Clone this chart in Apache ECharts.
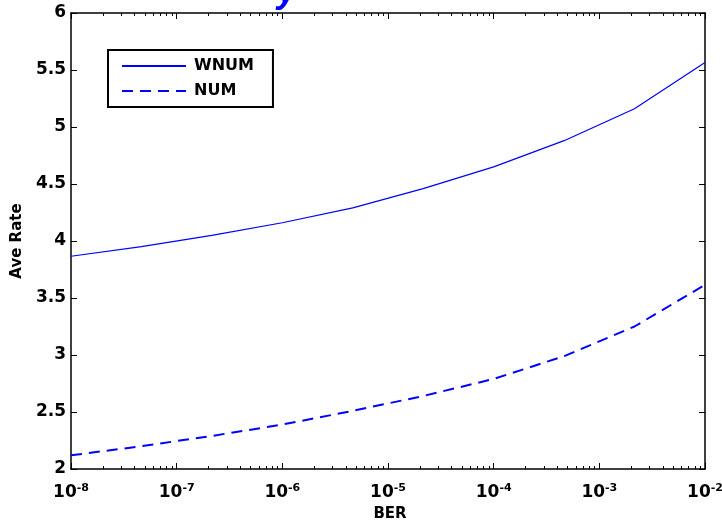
<!DOCTYPE html>
<html>
<head>
<meta charset="utf-8">
<script src="https://cdn.jsdelivr.net/npm/echarts@6/dist/echarts.min.js"></script>
<style>
  html, body { margin: 0; padding: 0; background: #fff; }
  #main { width: 722px; height: 522px; }
</style>
</head>
<body>
<div id="main"></div>
<script>
var myChart = echarts.init(document.getElementById('main'));

// BER sample points (log spaced)
var ber = [1e-8, 4.64e-8, 2.15e-7, 1e-6, 4.64e-6, 2.15e-5, 1e-4, 4.64e-4, 2.15e-3, 1e-2];
var wnum = [3.866, 3.95, 4.05, 4.16, 4.29, 4.46, 4.65, 4.88, 5.16, 5.565];
var num = [2.12, 2.20, 2.29, 2.39, 2.51, 2.64, 2.79, 2.99, 3.25, 3.615];

var decadeTicks = [1e-8, 1e-7, 1e-6, 1e-5, 1e-4, 1e-3, 1e-2];
var decadeExp = ['-8', '-7', '-6', '-5', '-4', '-3', '-2'];

// minor ticks 2..9 x 10^n
var minorTicks = [];
for (var i = 0; i < decadeTicks.length - 1; i++) {
    for (var k = 2; k <= 9; k++) {
        minorTicks.push(+(k * decadeTicks[i]).toPrecision(3));
    }
}

var FONT = 'DejaVu Sans, sans-serif';

function xaxis(pos, ticks, len, showLine, showLabel) {
    return {
        type: 'log',
        logBase: 10,
        position: pos,
        min: 1e-8,
        max: 1e-2,
        axisLine: { show: showLine, lineStyle: { color: '#000', width: 1.5 } },
        axisTick: {
            show: true,
            inside: true,
            length: len,
            customValues: ticks,
            lineStyle: { color: '#000', width: 1 }
        },
        splitLine: { show: false },
        minorTick: { show: false },
        axisLabel: {
            show: showLabel,
            customValues: decadeTicks,
            margin: 14,
            formatter: function (v) {
                var idx = 0;
                for (var j = 0; j < decadeTicks.length; j++) {
                    if (Math.abs(Math.log10(v) - Math.log10(decadeTicks[j])) < 0.01) idx = j;
                }
                return '{b|10}{s|' + decadeExp[idx] + '}';
            },
            rich: {
                b: { fontFamily: FONT, fontWeight: 'bold', fontSize: 17, color: '#000' },
                s: { fontFamily: FONT, fontWeight: 'bold', fontSize: 11, color: '#000', padding: [0, 0, 9, 0] }
            }
        }
    };
}

var xAxes = [
    xaxis('bottom', decadeTicks, 6, true, true),
    xaxis('bottom', minorTicks, 3, false, false),
    xaxis('top', decadeTicks, 6, true, false),
    xaxis('top', minorTicks, 3, false, false)
];
xAxes[0].name = 'BER';
xAxes[0].nameLocation = 'middle';
xAxes[0].nameGap = 38;
xAxes[0].nameTextStyle = { fontFamily: FONT, fontWeight: 'bold', fontSize: 15, color: '#000', padding: [0, 0, 0, 4] };

option = {
    backgroundColor: '#fff',
    animation: false,
    title: {
        text: 'y',
        left: 272,
        top: -31,
        textStyle: { color: '#0000ff', fontSize: 36, fontWeight: 'bold', fontStyle: 'italic', fontFamily: 'Liberation Sans, Arial, sans-serif' }
    },
    grid: { left: 71, right: 17, top: 13, bottom: 53, outerBoundsMode: 'none', containLabel: false },
    legend: {
        orient: 'vertical',
        left: 108,
        top: 50,
        padding: [8, 19, 8, 13],
        itemGap: 9,
        itemWidth: 64,
        itemHeight: 14,
        borderColor: '#000',
        borderWidth: 2,
        borderRadius: 0,
        backgroundColor: '#fff',
        itemStyle: { opacity: 0 },
        textStyle: { fontFamily: FONT, fontWeight: 'bold', fontSize: 16, color: '#000', padding: [0, 0, 0, 3] },
        data: ['WNUM', 'NUM']
    },
    xAxis: xAxes,
    yAxis: [
        {
            type: 'value',
            position: 'left',
            min: 2,
            max: 6,
            interval: 0.5,
            name: 'Ave Rate',
            nameLocation: 'middle',
            nameRotate: 90,
            nameGap: 39,
            nameTextStyle: { fontFamily: FONT, fontWeight: 'bold', fontSize: 15, color: '#000' },
            axisLine: { show: true, lineStyle: { color: '#000', width: 1.5 } },
            axisTick: { show: true, inside: true, length: 6, lineStyle: { color: '#000' } },
            splitLine: { show: false },
            axisLabel: { margin: 5, fontFamily: FONT, fontWeight: 'bold', fontSize: 17, color: '#000' }
        },
        {
            type: 'value',
            position: 'right',
            min: 2,
            max: 6,
            interval: 0.5,
            axisLine: { show: true, lineStyle: { color: '#000', width: 1.5 } },
            axisTick: { show: true, inside: true, length: 6, lineStyle: { color: '#000' } },
            splitLine: { show: false },
            axisLabel: { show: false }
        }
    ],
    series: [
        {
            name: 'WNUM',
            type: 'line',
            xAxisIndex: 0,
            yAxisIndex: 0,
            symbol: 'none',
            lineStyle: { color: '#0000ff', width: 1.2, type: 'solid' },
            itemStyle: { color: '#0000ff' },
            data: ber.map(function (b, i) { return [b, wnum[i]]; })
        },
        {
            name: 'NUM',
            type: 'line',
            xAxisIndex: 0,
            yAxisIndex: 0,
            symbol: 'none',
            lineStyle: { color: '#0000ff', width: 2, type: [11, 7] },
            itemStyle: { color: '#0000ff' },
            data: ber.map(function (b, i) { return [b, num[i]]; })
        }
    ]
};

myChart.setOption(option);
</script>
</body>
</html>
